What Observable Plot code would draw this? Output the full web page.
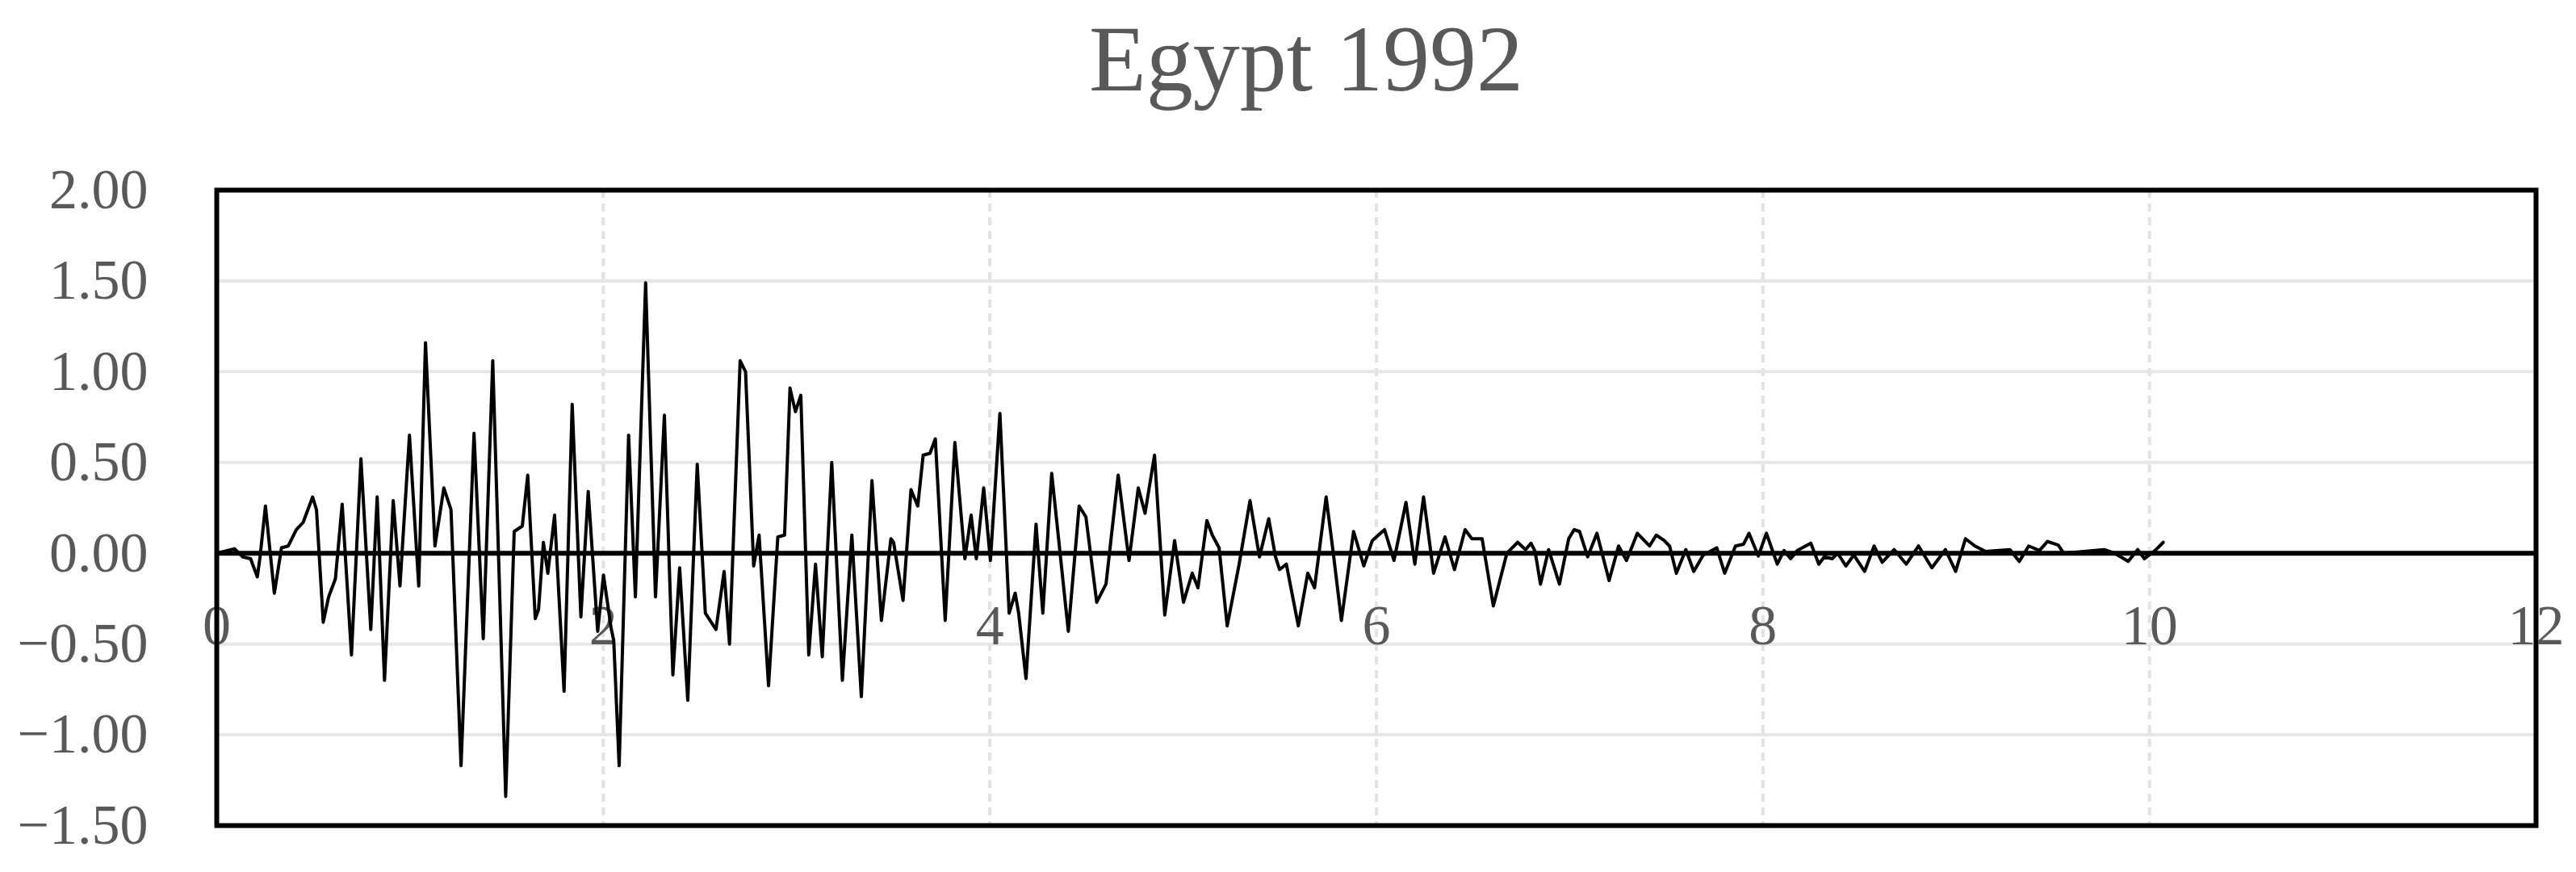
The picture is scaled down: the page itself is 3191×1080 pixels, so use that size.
<!DOCTYPE html>
<html>
<head>
<meta charset="utf-8">
<script src="https://cdn.jsdelivr.net/npm/d3@7"></script>
<script src="https://cdn.jsdelivr.net/npm/@observablehq/plot@0.6"></script>
<style>
  html, body { margin: 0; padding: 0; background: #fff; }
  #title {
    width: 3191px; height: 150px; box-sizing: border-box;
    padding-top: 15px; padding-left: 45px;
    font-family: 'Times New Roman', 'Liberation Serif', serif;
    font-size: 116px; line-height: 116px; color: #595959; text-align: center;
  }
</style>
</head>
<body>
<div id="title">Egypt 1992</div>
<div id="chart"></div>
<script>
const titleText = "Egypt 1992";
const xTicks = [0, 2, 4, 6, 8, 10, 12];
const xGrid = [2, 4, 6, 8, 10];
const yTicks = [-1.5, -1.0, -0.5, 0, 0.5, 1.0, 1.5, 2.0];
const yGrid = [-1.0, -0.5, 0.5, 1.0, 1.5];

// time (s) of the traced turning points of the record
const time = [
  0.000, 0.092, 0.134, 0.175, 0.210, 0.224, 0.252, 0.273, 0.298, 0.335,
  0.370, 0.412, 0.447, 0.496, 0.516, 0.551, 0.579, 0.614, 0.649, 0.697,
  0.746, 0.797, 0.830, 0.868, 0.913, 0.948, 0.997, 1.045, 1.080, 1.129,
  1.175, 1.212, 1.264, 1.331, 1.379, 1.428, 1.495, 1.539, 1.581, 1.609,
  1.648, 1.665, 1.690, 1.713, 1.748, 1.797, 1.839, 1.884, 1.922, 1.971,
  2.001, 2.040, 2.054, 2.082, 2.131, 2.166, 2.219, 2.270, 2.316, 2.360,
  2.395, 2.437, 2.486, 2.528, 2.583, 2.625, 2.653, 2.708, 2.736, 2.778,
  2.806, 2.855, 2.903, 2.938, 2.966, 2.994, 3.022, 3.063, 3.098, 3.133,
  3.182, 3.237, 3.286, 3.335, 3.390, 3.439, 3.488, 3.502, 3.551, 3.592,
  3.627, 3.655, 3.690, 3.718, 3.769, 3.819, 3.871, 3.903, 3.930, 3.968,
  4.003, 4.052, 4.100, 4.131, 4.149, 4.187, 4.239, 4.274, 4.320, 4.406,
  4.462, 4.497, 4.553, 4.601, 4.664, 4.720, 4.768, 4.803, 4.852, 4.905,
  4.956, 5.002, 5.047, 5.077, 5.123, 5.151, 5.186, 5.228, 5.290, 5.346,
  5.395, 5.443, 5.478, 5.499, 5.534, 5.596, 5.645, 5.680, 5.740, 5.777,
  5.819, 5.882, 5.935, 5.979, 6.042, 6.091, 6.153, 6.199, 6.244, 6.296,
  6.355, 6.404, 6.459, 6.494, 6.547, 6.605, 6.675, 6.731, 6.772, 6.800,
  6.821, 6.849, 6.891, 6.947, 6.995, 7.023, 7.051, 7.093, 7.141, 7.204,
  7.253, 7.294, 7.350, 7.413, 7.448, 7.489, 7.517, 7.552, 7.601, 7.642,
  7.691, 7.761, 7.802, 7.858, 7.900, 7.928, 7.976, 8.018, 8.074, 8.109,
  8.143, 8.178, 8.248, 8.289, 8.317, 8.359, 8.387, 8.429, 8.470, 8.526,
  8.575, 8.617, 8.679, 8.742, 8.805, 8.874, 8.944, 8.997, 9.048, 9.097,
  9.152, 9.278, 9.326, 9.375, 9.431, 9.472, 9.528, 9.556, 9.765, 9.820,
  9.890, 9.939, 9.974, 10.029, 10.071
];

// acceleration values at those times
const accel = [
  0.00, 0.025, -0.02, -0.03, -0.13, -0.02, 0.26, 0.04, -0.22, 0.03,
  0.04, 0.13, 0.17, 0.31, 0.24, -0.38, -0.24, -0.14, 0.27, -0.56,
  0.52, -0.42, 0.31, -0.70, 0.29, -0.18, 0.65, -0.18, 1.16, 0.04,
  0.36, 0.24, -1.17, 0.66, -0.47, 1.06, -1.34, 0.12, 0.15, 0.43,
  -0.36, -0.31, 0.06, -0.11, 0.21, -0.76, 0.82, -0.35, 0.34, -0.43,
  -0.12, -0.41, -0.48, -1.17, 0.65, -0.24, 1.49, -0.24, 0.76, -0.67,
  -0.08, -0.81, 0.49, -0.33, -0.42, -0.10, -0.50, 1.06, 1.00, -0.07,
  0.10, -0.73, 0.09, 0.10, 0.91, 0.78, 0.87, -0.56, -0.06, -0.57,
  0.50, -0.70, 0.10, -0.79, 0.40, -0.37, 0.08, 0.06, -0.26, 0.35,
  0.26, 0.54, 0.55, 0.63, -0.37, 0.61, -0.03, 0.21, -0.03, 0.36,
  -0.04, 0.77, -0.33, -0.22, -0.33, -0.69, 0.16, -0.33, 0.44, -0.43,
  0.26, 0.20, -0.27, -0.17, 0.43, -0.04, 0.36, 0.22, 0.54, -0.34,
  0.07, -0.27, -0.11, -0.19, 0.18, 0.10, 0.03, -0.40, -0.06, 0.29,
  -0.02, 0.19, -0.02, -0.09, -0.06, -0.40, -0.11, -0.19, 0.31, 0.00,
  -0.37, 0.12, -0.07, 0.07, 0.13, -0.04, 0.28, -0.06, 0.31, -0.11,
  0.09, -0.09, 0.13, 0.08, 0.08, -0.29, 0.00, 0.06, 0.02, 0.055,
  0.01, -0.17, 0.02, -0.17, 0.08, 0.13, 0.12, -0.02, 0.11, -0.15,
  0.04, -0.04, 0.11, 0.04, 0.10, 0.07, 0.04, -0.11, 0.02, -0.10,
  -0.01, 0.03, -0.11, 0.04, 0.05, 0.11, -0.015, 0.11, -0.06, 0.015,
  -0.03, 0.015, 0.055, -0.06, -0.02, -0.03, 0.00, -0.07, -0.01, -0.10,
  0.04, -0.05, 0.02, -0.06, 0.04, -0.08, 0.02, -0.10, 0.08, 0.04,
  0.01, 0.02, -0.045, 0.04, 0.015, 0.065, 0.045, 0.00, 0.02, 0.00,
  -0.045, 0.02, -0.03, 0.015, 0.06
];

const points = time.map((t, i) => ({t, v: accel[i]}));
const serif = "'Times New Roman', 'Liberation Serif', serif";

document.getElementById("title").textContent = titleText;

const chart = Plot.plot({
  width: 3191,
  height: 930,
  marginTop: 85,
  marginBottom: 58,
  marginLeft: 268,
  marginRight: 50,
  x: {domain: [0, 12], axis: null},
  y: {domain: [-1.5, 2], label: null},
  style: {fontFamily: serif, background: "#fff", overflow: "visible"},
  marks: [
    Plot.gridX(xGrid, {stroke: "#e2e2e2", strokeOpacity: 1, strokeWidth: 4, strokeDasharray: "10,7"}),
    Plot.gridY(yGrid, {stroke: "#e6e6e6", strokeOpacity: 1, strokeWidth: 4}),
    Plot.axisY(yTicks, {tickSize: 0, tickPadding: 85, tickFormat: d3.format(".2f"), fontSize: 70, fill: "#595959", label: null}),
    Plot.ruleY([0], {stroke: "black", strokeWidth: 6}),
    Plot.text(xTicks, {x: d => d, y: 0, dy: 90, text: d => String(d), fontSize: 70, fill: "#595959", fontFamily: serif}),
    Plot.line(points, {x: "t", y: "v", stroke: "black", strokeWidth: 4}),
    Plot.frame({stroke: "black", strokeWidth: 6})
  ]
});
document.getElementById("chart").appendChild(chart);
</script>
</body>
</html>
